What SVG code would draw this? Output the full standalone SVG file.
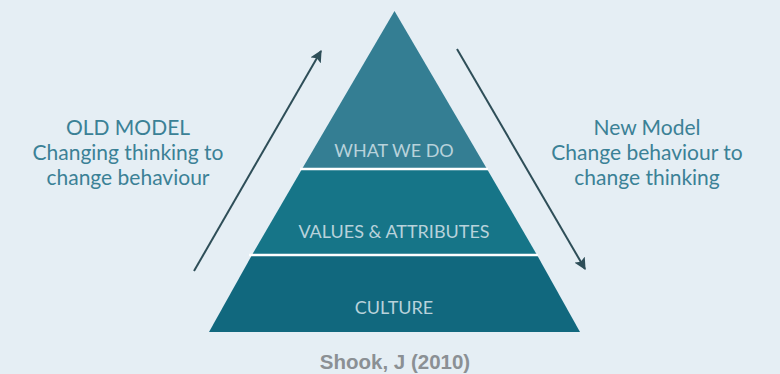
<svg xmlns="http://www.w3.org/2000/svg" width="780" height="374" viewBox="0 0 780 374">
<defs>
<style>
.side{font-family:"Lato","Liberation Sans",sans-serif;font-size:21px;fill:#3b8196;text-anchor:middle}
.lay{font-family:"Lato","Liberation Sans",sans-serif;font-size:18px;fill:#b8d2db;text-anchor:middle}
.cap{font-family:"Liberation Sans",sans-serif;font-size:20.5px;font-weight:bold;fill:#8b9094;text-anchor:middle}
.arr{stroke:#2e4e58;stroke-width:2;fill:none}
.sep{stroke:#ffffff;stroke-width:2.5}
</style>
<marker id="ah" viewBox="0 0 10 10" refX="9" refY="5" markerWidth="6" markerHeight="6" orient="auto" markerUnits="strokeWidth">
<path d="M0,0 L10,5 L0,10 L2,5 z" fill="#2e4e58"/>
</marker>
</defs>
<rect width="780" height="374" fill="#e5eef4"/>
<g id="culture">
<polygon points="252,255 537,255 580,332 209,332" fill="#11687e"/>
<text class="lay" x="394" y="314">CULTURE</text>
</g>
<g id="values">
<polygon points="302,169 487,169 537,255 252,255" fill="#167588"/>
<text class="lay" x="394" y="238">VALUES &amp; ATTRIBUTES</text>
</g>
<g id="whatwedo">
<polygon points="394.5,11 487,169 302,169" fill="#347e93"/>
<text class="lay" x="394" y="157">WHAT WE DO</text>
</g>
<g id="separators">
<line class="sep" x1="300" y1="169" x2="488" y2="169"/>
<line class="sep" x1="249" y1="255" x2="538" y2="255"/>
</g>
<g id="connectors">
<line class="arr" x1="194" y1="271" x2="321" y2="51" marker-end="url(#ah)"/>
<line class="arr" x1="457" y1="49" x2="585" y2="269" marker-end="url(#ah)"/>
</g>
<g id="old-model">
<text class="side" x="128" y="135">OLD MODEL</text>
<text class="side" x="128" y="160">Changing thinking to</text>
<text class="side" x="128" y="185">change behaviour</text>
</g>
<g id="new-model">
<text class="side" x="647" y="135">New Model</text>
<text class="side" x="647" y="160">Change behaviour to</text>
<text class="side" x="647" y="185">change thinking</text>
</g>
<g id="caption">
<text class="cap" x="395" y="369">Shook, J (2010)</text>
</g>
</svg>
